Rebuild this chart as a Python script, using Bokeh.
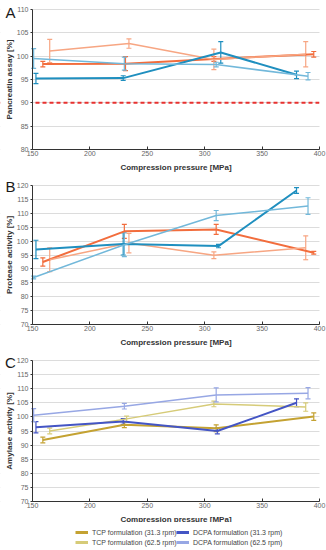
from bokeh.plotting import figure
from bokeh.models import (ColumnDataSource, Whisker, TeeHead, Span, Label, Legend,
                          LegendItem, FixedTicker, Range1d, BoxAnnotation)
from bokeh.layouts import column
from bokeh.embed import file_html
from bokeh.resources import INLINE

FONT = "Liberation Sans"
NAN = float("nan")

series_names = ["TCP formulation (31.3 rpm)", "TCP formulation (62.5 rpm)",
                "DCPA formulation (31.3 rpm)", "DCPA formulation (62.5 rpm)"]

# ---------- Panel A: pancreatin assay ----------
a_tcp31_x = [159, 231, 308, 395]
a_tcp31_y = [98.3, 98.4, 99.4, 100.4]
a_tcp31_e = [0.6, 1.5, 0.5, 0.6]
a_tcp62_x = [165, 234, 308, 388]
a_tcp62_y = [101.1, 102.7, 99.3, 100.4]
a_tcp62_e = [2.5, 1.0, 2.2, 2.7]
a_dcpa31_x = [153, 229, 314, 380]
a_dcpa31_y = [95.2, 95.3, 100.8, 96.0]
a_dcpa31_e = [1.1, 0.5, 2.3, 0.8]
a_dcpa62_x = [151, 230, 310, 390]
a_dcpa62_y = [99.5, 98.4, 98.2, 95.7]
a_dcpa62_e = [2.1, 1.4, 0.5, 0.8]
a_limit = 90

# ---------- Panel B: protease activity ----------
b_tcp31_x = [159, 230, 310, 395]
b_tcp31_y = [92.5, 103.5, 104.2, 95.8]
b_tcp31_e = [1.5, 2.5, 1.8, 0.5]
b_tcp62_x = [165, 234, 308, 388]
b_tcp62_y = [93.3, 99.3, 94.9, 97.6]
b_tcp62_e = [4.3, 3.5, 1.2, 4.3]
b_dcpa31_x = [153, 229, 312, 380]
b_dcpa31_y = [97.0, 99.0, 98.2, 118.2]
b_dcpa31_e = [3.3, 4.0, 0.6, 1.0]
b_dcpa62_x = [151, 230, 310, 390]
b_dcpa62_y = [86.9, 98.7, 109.2, 112.6]
b_dcpa62_e = [0.5, 4.3, 1.8, 3.0]

# ---------- Panel C: amylase activity ----------
c_tcp31_x = [159, 230, 310, 395]
c_tcp31_y = [91.8, 97.2, 96.0, 100.1]
c_tcp31_e = [1.0, 1.0, 1.2, 1.3]
c_tcp62_x = [165, 232, 308, 388]
c_tcp62_y = [95.0, 99.3, 104.6, 103.5]
c_tcp62_e = [1.0, 1.0, 1.0, 1.5]
c_dcpa31_x = [153, 229, 311, 380]
c_dcpa31_y = [96.3, 98.4, 95.0, 105.0]
c_dcpa31_e = [2.0, 1.0, 1.0, 1.4]
c_dcpa62_x = [151, 230, 310, 390]
c_dcpa62_y = [100.6, 103.8, 107.8, 108.4]
c_dcpa62_e = [2.3, 1.0, 2.5, 2.0]

x_ticks = [150, 200, 250, 300, 350, 400]
x_min, x_max = 150, 400

colors_ab = ["#f26d3d", "#f7a683", "#1f8fbf", "#72b8da"]
colors_c = ["#c4a232", "#d6cb78", "#4455c4", "#97a7e4"]
widths = [2, 1.5, 2, 1.5]

# layout (pixels): the frame fills each figure; axes are placed inside it
W = 326
AX_LEFT, AX_RIGHT = 32, 319
PX_X = (AX_RIGHT - AX_LEFT) / (x_max - x_min)
X_START = x_min - AX_LEFT / PX_X
X_END = x_max + (W - AX_RIGHT) / PX_X


def make_panel(letter, ylabel, yr, series, colors, height, top_px, bottom_px,
               letter_y_px, limit=None):
    px_y = (bottom_px - top_px) / (yr[1] - yr[0])
    y_start = yr[0] - (height - bottom_px) / px_y
    y_end = yr[1] + top_px / px_y
    p = figure(width=W, height=height, output_backend="svg", toolbar_location=None,
               x_range=Range1d(X_START, X_END), y_range=Range1d(y_start, y_end),
               min_border_left=0, min_border_right=0, min_border_top=0,
               min_border_bottom=0)
    p.outline_line_color = None
    p.xgrid.grid_line_color = None
    p.ygrid.grid_line_color = "#dcdcdc"
    p.ygrid.grid_line_width = 1
    p.xaxis.ticker = FixedTicker(ticks=x_ticks)
    p.xaxis.bounds = (x_min, x_max)
    p.xaxis.fixed_location = yr[0]
    p.yaxis.ticker = FixedTicker(ticks=list(range(yr[0], yr[1] + 1, 5)))
    p.yaxis.bounds = yr
    p.yaxis.fixed_location = x_min
    for ax in (p.xaxis[0], p.yaxis[0]):
        ax.axis_line_color = "#333333"
        ax.major_tick_line_color = "#333333"
        ax.minor_tick_line_color = None
        ax.major_label_text_font = FONT
        ax.major_label_text_font_size = "7px"
        ax.major_label_text_color = "#666666"
        ax.axis_label_text_font = FONT
        ax.axis_label_text_font_size = "8px"
        ax.axis_label_text_font_style = "bold"
        ax.axis_label_text_color = "#333333"
    p.xaxis.major_tick_in = 3
    p.xaxis.major_tick_out = 0
    p.xaxis.major_label_standoff = 1
    p.xaxis.axis_label_standoff = 4
    p.yaxis.major_tick_in = 0
    p.yaxis.major_tick_out = 2
    p.yaxis.major_label_standoff = 2
    p.yaxis.axis_label_standoff = 0
    p.xaxis.axis_label = "Compression pressure [MPa]"
    p.yaxis.axis_label = ylabel

    if limit is not None:
        p.add_layout(Span(location=limit, dimension="width", line_color="#e8312f",
                          line_dash="4 3", line_width=2, level="underlay"))
    # blank out grid outside the axis extent
    p.add_layout(BoxAnnotation(right=x_min, fill_color="white", fill_alpha=1,
                               line_color=None, level="underlay"))
    p.add_layout(BoxAnnotation(left=x_max, fill_color="white", fill_alpha=1,
                               line_color=None, level="underlay"))

    for (xs, ys, es), c, w in zip(series, colors, widths):
        src = ColumnDataSource(dict(x=xs, y=ys,
                                    upper=[a + b for a, b in zip(ys, es)],
                                    lower=[a - b for a, b in zip(ys, es)]))
        p.line("x", "y", source=src, line_color=c, line_width=w)
        wk = Whisker(source=src, base="x", upper="upper", lower="lower",
                     dimension="height", line_color=c, line_width=1.2,
                     upper_head=TeeHead(size=5, line_color=c, line_width=1.2),
                     lower_head=TeeHead(size=5, line_color=c, line_width=1.2))
        p.add_layout(wk)

    lx = X_START + 10 / PX_X
    ly = y_end - letter_y_px / px_y
    p.add_layout(Label(x=lx, y=ly, text=letter, text_font=FONT, text_font_size="15px",
                       text_color="#1a1a1a", text_align="center",
                       text_baseline="middle"))
    return p


pa = make_panel("A", "Pancreatin assay [%]", (80, 110),
                [(a_tcp31_x, a_tcp31_y, a_tcp31_e), (a_tcp62_x, a_tcp62_y, a_tcp62_e),
                 (a_dcpa31_x, a_dcpa31_y, a_dcpa31_e), (a_dcpa62_x, a_dcpa62_y, a_dcpa62_e)],
                colors_ab, 176, 9, 149, 12, limit=a_limit)

pb = make_panel("B", "Protease activity [%]", (70, 120),
                [(b_tcp31_x, b_tcp31_y, b_tcp31_e), (b_tcp62_x, b_tcp62_y, b_tcp62_e),
                 (b_dcpa31_x, b_dcpa31_y, b_dcpa31_e), (b_dcpa62_x, b_dcpa62_y, b_dcpa62_e)],
                colors_ab, 174, 9, 148, 10)

pc = make_panel("C", "Amylase activity [%]", (70, 120),
                [(c_tcp31_x, c_tcp31_y, c_tcp31_e), (c_tcp62_x, c_tcp62_y, c_tcp62_e),
                 (c_dcpa31_x, c_dcpa31_y, c_dcpa31_e), (c_dcpa62_x, c_dcpa62_y, c_dcpa62_e)],
                colors_c, 172, 10, 151, 12)

# ---------- legend strip ----------
pl = figure(width=W, height=28, output_backend="svg", toolbar_location=None,
            x_range=Range1d(0, 1), y_range=Range1d(0, 1),
            x_axis_type=None, y_axis_type=None,
            min_border_left=0, min_border_right=0, min_border_top=0,
            min_border_bottom=0)
pl.outline_line_color = None
pl.grid.grid_line_color = None
items = []
for name, c in zip(series_names, colors_c):
    d = pl.line(x=[NAN], y=[NAN], line_color=c, line_width=3)
    items.append(LegendItem(label=name, renderers=[d]))
for grp, loc in ((items[:2], (75, 4)), (items[2:], (176, 4))):
    lg = Legend(items=grp, location=loc, orientation="vertical",
                label_text_font=FONT, label_text_font_size="7px",
                label_text_color="#444444", glyph_width=13, glyph_height=8,
                label_height=8, spacing=2, padding=0, margin=0,
                border_line_color=None, background_fill_alpha=0,
                label_standoff=4)
    pl.add_layout(lg)

lay = column(pa, pb, pc, pl, spacing=0)
open("out.html", "w").write(file_html(lay, INLINE))
